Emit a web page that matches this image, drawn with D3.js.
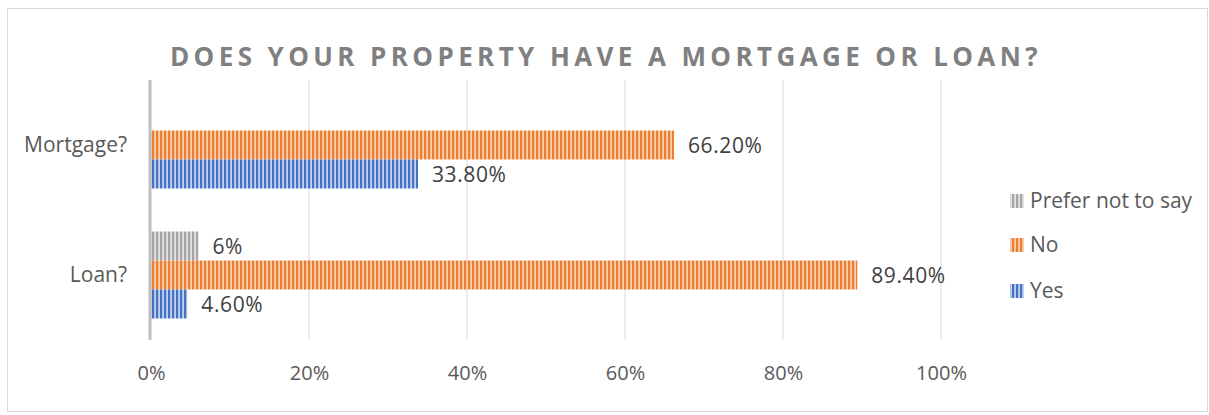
<!DOCTYPE html>
<html><head><meta charset="utf-8">
<script src="https://cdn.jsdelivr.net/npm/d3@7"></script>
<style>body{margin:0;background:#fff}svg{display:block}</style>
</head><body><svg id="c" width="1209" height="415"></svg>
<script>
const categories = ["Mortgage?", "Loan?"];
const seriesNames = ["Prefer not to say", "No", "Yes"];
const preferValues = [0, 6];
const noValues = [66.2, 89.4];
const yesValues = [33.8, 4.6];
const valueLabels = [["", "6%"], ["66.20%", "89.40%"], ["33.80%", "4.60%"]];
const xTicks = [0, 20, 40, 60, 80, 100];
const colors = ["#a5a5a5", "#ed7d31", "#4472c4"];
const lightColors = ["#e2e2e2", "#f9cfae", "#c2d1ee"];

const series = [preferValues, noValues, yesValues];
const svg = d3.select("#c");
const font = "'Open Sans', sans-serif";

svg.append("rect").attr("x", 7.5).attr("y", 8.5).attr("width", 1200).attr("height", 403)
  .attr("fill", "#fff").attr("stroke", "#d9d9d9");

const defs = svg.append("defs");
colors.forEach((c, i) => {
  const p = defs.append("pattern").attr("id", "p" + i).attr("patternUnits", "userSpaceOnUse")
    .attr("width", 4).attr("height", 10);
  p.append("rect").attr("width", 4).attr("height", 10).attr("fill", lightColors[i]);
  p.append("rect").attr("width", 2.2).attr("height", 10).attr("fill", c);
});

const x = d3.scaleLinear().domain([0, 100]).range([151, 941]);
const y = d3.scaleBand().domain(categories).range([80, 340]).paddingInner(0).paddingOuter(0);
const inner = d3.scaleBand().domain(seriesNames).range([21.5, 130 - 21.5]);

// gridlines
svg.append("g").selectAll("line").data(xTicks.slice(1)).join("line")
  .attr("x1", d => x(d)).attr("x2", d => x(d)).attr("y1", 80).attr("y2", 340)
  .attr("stroke", "#d9d9d9").attr("stroke-width", 1);

// x tick labels via axis
const xAxis = d3.axisBottom(x).tickValues(xTicks).tickFormat(d => d + "%").tickSize(0).tickPadding(0);
const gx = svg.append("g").attr("transform", "translate(0,373)").call(xAxis);
gx.select(".domain").remove();
gx.selectAll("text").attr("font-family", font).attr("font-size", 20).attr("fill", "#595959")
  .attr("dy", "0.35em").attr("y", 0);

// bars
series.forEach((vals, si) => {
  const g = svg.append("g");
  categories.forEach((cat, ci) => {
    const v = vals[ci];
    const yy = y(cat) + inner(seriesNames[si]);
    if (v > 0) {
      g.append("rect").attr("x", x(0)).attr("y", yy).attr("width", x(v) - x(0))
        .attr("height", inner.bandwidth()).attr("fill", "url(#p" + si + ")");
    }
    if (valueLabels[si][ci]) {
      g.append("text").attr("x", x(v) + 14).attr("y", yy + inner.bandwidth() / 2 + 1)
        .attr("dy", "0.35em").attr("font-family", font).attr("font-size", 21)
        .attr("letter-spacing", 0.6)
        .attr("fill", "#404040").text(valueLabels[si][ci]);
    }
  });
});

// y axis line
svg.append("line").attr("x1", 150).attr("x2", 150).attr("y1", 80).attr("y2", 340)
  .attr("stroke", "#bfbfbf").attr("stroke-width", 3);

// category labels
const yAxis = d3.axisLeft(y).tickSize(0).tickPadding(0);
const gy = svg.append("g").attr("transform", "translate(127,0)").call(yAxis);
gy.select(".domain").remove();
gy.selectAll("text").attr("font-family", font).attr("font-size", 21).attr("fill", "#595959");

// title
svg.append("text").attr("x", 606).attr("y", 66).attr("text-anchor", "middle")
  .attr("font-family", font).attr("font-weight", "bold").attr("font-size", 26)
  .attr("letter-spacing", 4.4).attr("fill", "#808080")
  .text("DOES YOUR PROPERTY HAVE A MORTGAGE OR LOAN?");

// legend
const legendY = [201, 245, 291];
seriesNames.forEach((n, i) => {
  svg.append("rect").attr("x", 1010).attr("y", legendY[i] - 7).attr("width", 14).attr("height", 14)
    .attr("fill", "url(#p" + i + ")");
  svg.append("text").attr("x", 1030).attr("y", legendY[i]).attr("dy", "0.35em")
    .attr("font-family", font).attr("font-size", 21).attr("fill", "#595959").text(n);
});
</script></body></html>
